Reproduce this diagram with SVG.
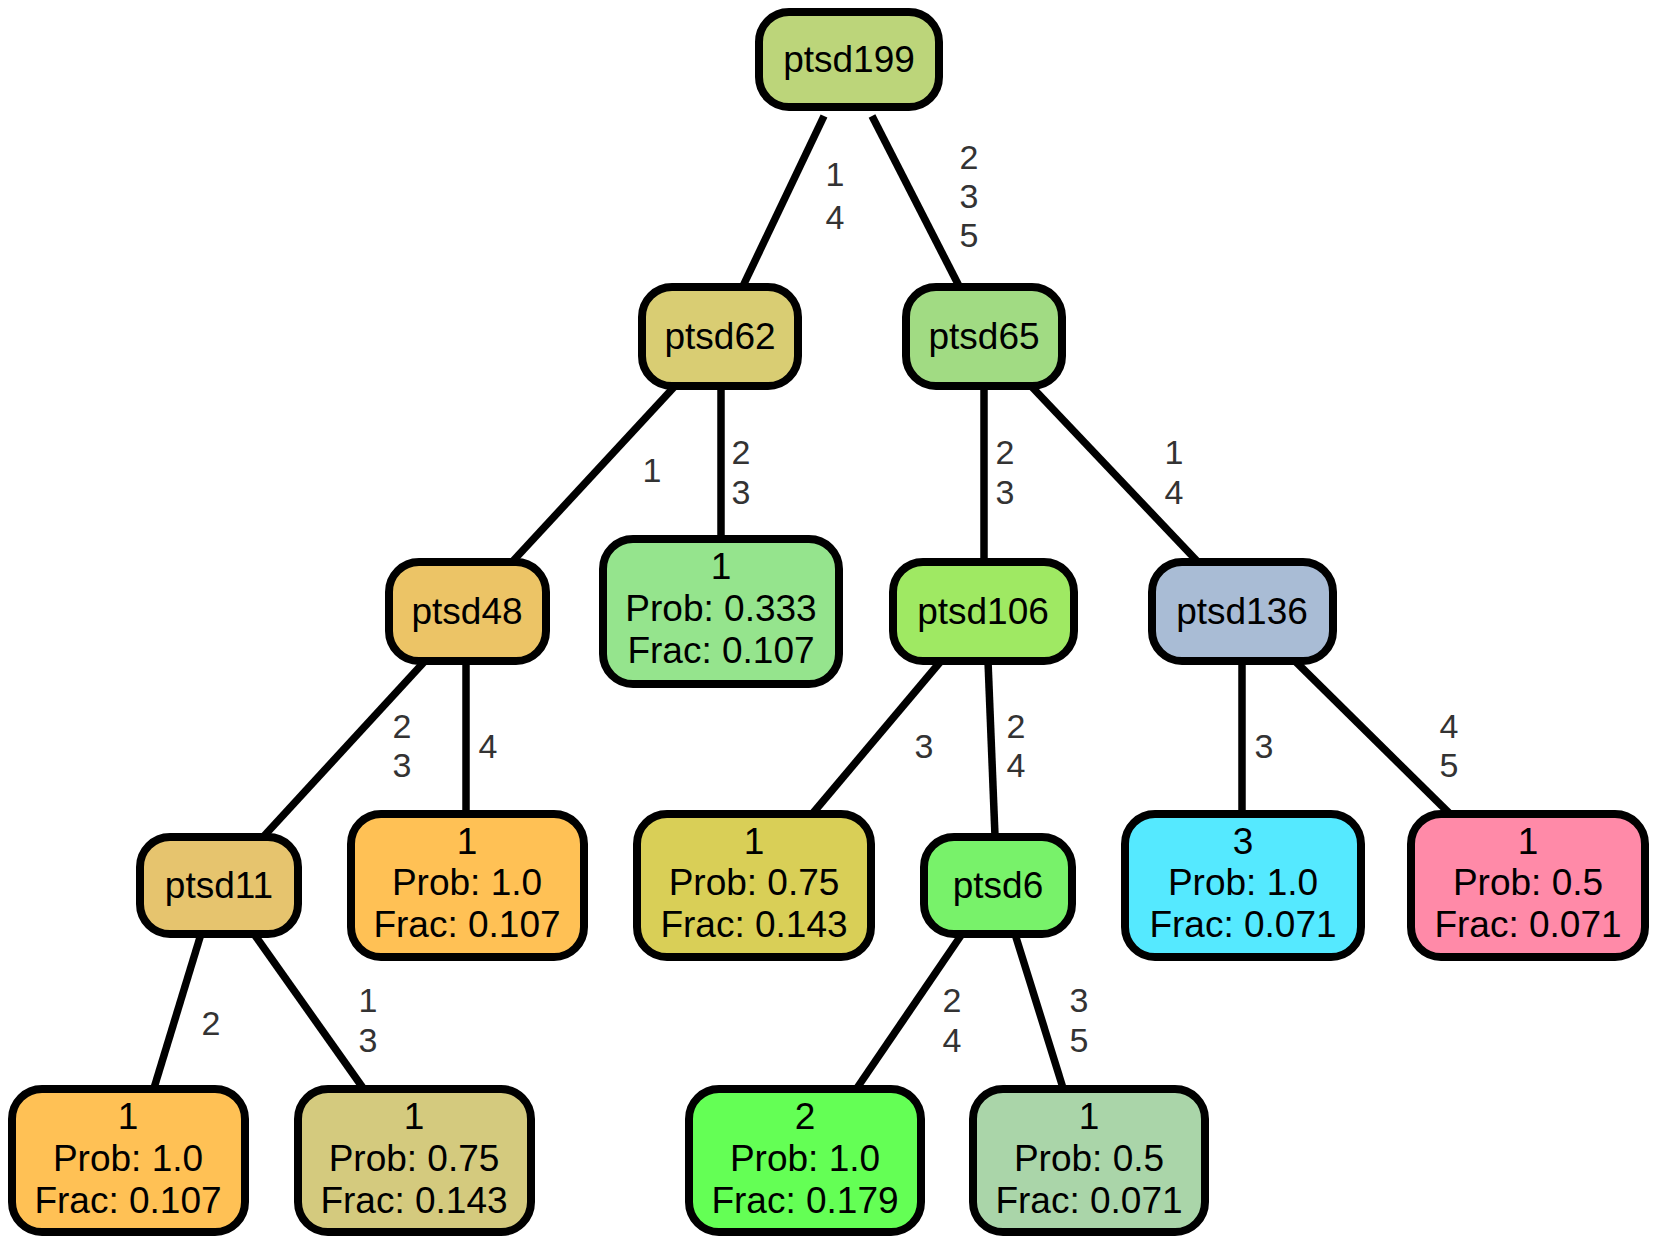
<svg xmlns="http://www.w3.org/2000/svg" width="1658" height="1246" viewBox="0 0 1658 1246">
<style>
.n{stroke:#000;stroke-width:8}
.t{font-family:"Liberation Sans",Arial,sans-serif;font-size:37px;text-anchor:middle;fill:#000}
.e{stroke:#000;stroke-width:7.5;fill:none}
.l{font-family:"Liberation Sans",Arial,sans-serif;font-size:34px;text-anchor:middle;fill:#333}
</style>
<rect width="1658" height="1246" fill="#fff"/>
<g id="connectors">
<line class="e" x1="824" y1="116" x2="743" y2="286"/>
<line class="e" x1="872" y1="116" x2="959" y2="286"/>
<line class="e" x1="675" y1="386" x2="513" y2="561"/>
<line class="e" x1="721" y1="386" x2="721" y2="538"/>
<line class="e" x1="984" y1="386" x2="984" y2="561"/>
<line class="e" x1="1031" y1="386" x2="1197" y2="561"/>
<line class="e" x1="425" y1="661" x2="264" y2="836"/>
<line class="e" x1="466" y1="661" x2="466" y2="813"/>
<line class="e" x1="941" y1="661" x2="813" y2="813"/>
<line class="e" x1="988" y1="661" x2="995" y2="836"/>
<line class="e" x1="1242" y1="661" x2="1242" y2="813"/>
<line class="e" x1="1295" y1="661" x2="1449" y2="813"/>
<line class="e" x1="201" y1="934" x2="154" y2="1088"/>
<line class="e" x1="254" y1="934" x2="363" y2="1088"/>
<line class="e" x1="962" y1="934" x2="857" y2="1088"/>
<line class="e" x1="1015" y1="934" x2="1063" y2="1088"/>
<text class="l" x="835" y="186">1</text><text class="l" x="835" y="229">4</text>
<text class="l" x="969" y="169">2</text><text class="l" x="969" y="208">3</text><text class="l" x="969" y="247">5</text>
<text class="l" x="652" y="482">1</text>
<text class="l" x="741" y="464">2</text><text class="l" x="741" y="504">3</text>
<text class="l" x="1005" y="464">2</text><text class="l" x="1005" y="504">3</text>
<text class="l" x="1174" y="464">1</text><text class="l" x="1174" y="504">4</text>
<text class="l" x="402" y="738">2</text><text class="l" x="402" y="777">3</text>
<text class="l" x="488" y="758">4</text>
<text class="l" x="924" y="758">3</text>
<text class="l" x="1016" y="738">2</text><text class="l" x="1016" y="777">4</text>
<text class="l" x="1264" y="758">3</text>
<text class="l" x="1449" y="738">4</text><text class="l" x="1449" y="777">5</text>
<text class="l" x="211" y="1035">2</text>
<text class="l" x="368" y="1012">1</text><text class="l" x="368" y="1052">3</text>
<text class="l" x="952" y="1012">2</text><text class="l" x="952" y="1052">4</text>
<text class="l" x="1079" y="1012">3</text><text class="l" x="1079" y="1052">5</text>
</g>
<g id="ptsd199"><rect class="n" x="759" y="12" width="180" height="95" rx="30" fill="#bcd57a"/><text class="t" x="849" y="72">ptsd199</text></g>
<g id="ptsd62"><rect class="n" x="642" y="287" width="156" height="99" rx="30" fill="#d9cd73"/><text class="t" x="720" y="349">ptsd62</text></g>
<g id="ptsd65"><rect class="n" x="906" y="287" width="156" height="99" rx="30" fill="#a1db83"/><text class="t" x="984" y="349">ptsd65</text></g>
<g id="ptsd48"><rect class="n" x="389" y="562" width="157" height="99" rx="30" fill="#ecc466"/><text class="t" x="467" y="624">ptsd48</text></g>
<g id="leaf62"><rect class="n" x="603" y="539" width="236" height="145" rx="30" fill="#95e48d"/><text class="t" x="721" y="579">1</text><text class="t" x="721" y="621">Prob: 0.333</text><text class="t" x="721" y="663">Frac: 0.107</text></g>
<g id="ptsd106"><rect class="n" x="893" y="562" width="181" height="99" rx="30" fill="#9fe963"/><text class="t" x="983" y="624">ptsd106</text></g>
<g id="ptsd136"><rect class="n" x="1152" y="562" width="181" height="99" rx="30" fill="#a9bcd5"/><text class="t" x="1242" y="624">ptsd136</text></g>
<g id="ptsd11"><rect class="n" x="140" y="837" width="158" height="97" rx="30" fill="#e6c46e"/><text class="t" x="219" y="898">ptsd11</text></g>
<g id="leaf48"><rect class="n" x="351" y="814" width="233" height="143" rx="30" fill="#ffc155"/><text class="t" x="467" y="854">1</text><text class="t" x="467" y="895">Prob: 1.0</text><text class="t" x="467" y="937">Frac: 0.107</text></g>
<g id="leaf106"><rect class="n" x="637" y="814" width="234" height="143" rx="30" fill="#d9cf57"/><text class="t" x="754" y="854">1</text><text class="t" x="754" y="895">Prob: 0.75</text><text class="t" x="754" y="937">Frac: 0.143</text></g>
<g id="ptsd6"><rect class="n" x="924" y="837" width="148" height="97" rx="30" fill="#78f26a"/><text class="t" x="998" y="898">ptsd6</text></g>
<g id="leaf136a"><rect class="n" x="1125" y="814" width="236" height="143" rx="30" fill="#55e9ff"/><text class="t" x="1243" y="854">3</text><text class="t" x="1243" y="895">Prob: 1.0</text><text class="t" x="1243" y="937">Frac: 0.071</text></g>
<g id="leaf136b"><rect class="n" x="1411" y="814" width="234" height="143" rx="30" fill="#ff8aa8"/><text class="t" x="1528" y="854">1</text><text class="t" x="1528" y="895">Prob: 0.5</text><text class="t" x="1528" y="937">Frac: 0.071</text></g>
<g id="leaf11a"><rect class="n" x="12" y="1089" width="233" height="143" rx="30" fill="#ffc155"/><text class="t" x="128" y="1129">1</text><text class="t" x="128" y="1171">Prob: 1.0</text><text class="t" x="128" y="1213">Frac: 0.107</text></g>
<g id="leaf11b"><rect class="n" x="298" y="1089" width="233" height="143" rx="30" fill="#d4ca7e"/><text class="t" x="414" y="1129">1</text><text class="t" x="414" y="1171">Prob: 0.75</text><text class="t" x="414" y="1213">Frac: 0.143</text></g>
<g id="leaf6a"><rect class="n" x="689" y="1089" width="232" height="143" rx="30" fill="#64ff55"/><text class="t" x="805" y="1129">2</text><text class="t" x="805" y="1171">Prob: 1.0</text><text class="t" x="805" y="1213">Frac: 0.179</text></g>
<g id="leaf6b"><rect class="n" x="973" y="1089" width="232" height="143" rx="30" fill="#aad5a9"/><text class="t" x="1089" y="1129">1</text><text class="t" x="1089" y="1171">Prob: 0.5</text><text class="t" x="1089" y="1213">Frac: 0.071</text></g>
</svg>
